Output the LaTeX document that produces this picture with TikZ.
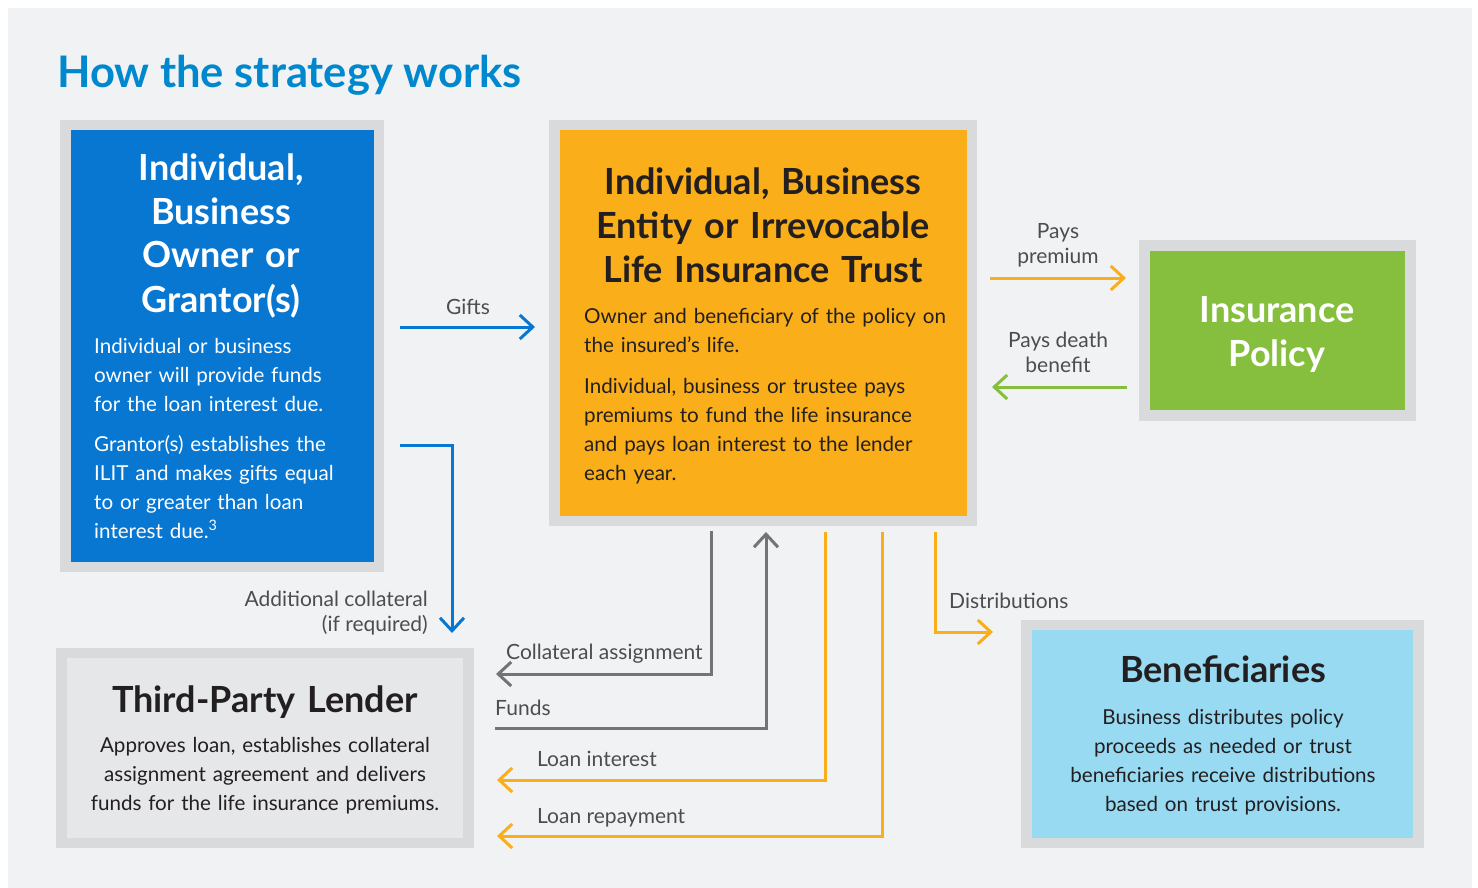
\documentclass[tikz,border=0pt]{standalone}
\usepackage{fontspec}
\setmainfont{Lato}
\usetikzlibrary{arrows.meta}

\definecolor{panel}{HTML}{F1F2F4}
\definecolor{framegray}{HTML}{D9DADC}
\definecolor{ownerblue}{HTML}{0777D1}
\definecolor{trustorange}{HTML}{F9AE1A}
\definecolor{policygreen}{HTML}{86BF3E}
\definecolor{benefblue}{HTML}{97DAF2}
\definecolor{lendergray}{HTML}{E6E7E9}
\definecolor{titleblue}{HTML}{0088CE}
\definecolor{inkdark}{HTML}{231F20}
\definecolor{labelgray}{HTML}{4D4D4F}
\definecolor{linegray}{HTML}{737477}

\tikzset{
  box/.style={draw=framegray, line width=10.5pt, inner sep=0pt},
  boxtitle/.style={font=\fontsize{36}{44}\selectfont\bfseries, text width=400pt, align=center, anchor=base, inner sep=0pt},
  boxtext/.style={font=\fontsize{20.6}{29}\selectfont, text width=400pt, inner sep=0pt},
  flowlabel/.style={text=labelgray, font=\fontsize{21}{25}\selectfont, inner sep=0pt},
  flow/.style={line width=3pt, -{Straight Barb[length=13pt,width=24pt]}},
}

\begin{document}
\begin{tikzpicture}[x=1pt, y=-1pt]
  \fill[white] (0,0) rectangle (1478,888);
  \fill[panel] (8,8) rectangle (1472,888);
  \node[anchor=base west, inner sep=0pt, text=titleblue, font=\fontsize{43.5}{50}\selectfont\bfseries] (heading) at (57,88) {How the strategy works};

  % boxes
  \node[box, fill=ownerblue, minimum width=313.5pt, minimum height=441.5pt] (owner) at (222,346) {};
  \node[box, fill=trustorange, minimum width=417.5pt, minimum height=396pt] (trust) at (763.25,323) {};
  \node[box, fill=policygreen, minimum width=266pt, minimum height=170pt] (policy) at (1277.5,330.5) {};
  \node[box, fill=lendergray, minimum width=407pt, minimum height=190pt] (lender) at (265,748) {};
  \node[box, fill=benefblue, minimum width=392pt, minimum height=218pt] (benef) at (1222.5,734) {};

  % owner
  \node[boxtitle, text=white] (ownerT) at (221,180) {Individual,\\Business\\Owner or\\Grantor(s)};
  \node[boxtext, text=white, anchor=base west, align=left] (ownerA) at (94,353) {Individual or business\\owner will provide funds\\for the loan interest due.};
  \node[boxtext, text=white, anchor=base west, align=left] (ownerB) at (94,451) {Grantor(s) establishes the\\ILIT and makes gifts equal\\to or greater than loan\\interest due.\textsuperscript{3}};

  % trust
  \node[boxtitle, text=inkdark] (trustT) at (763,194) {Individual, Business\\Entity or Irrevocable\\Life Insurance Trust};
  \node[boxtext, text=inkdark, anchor=base west, align=left] (trustA) at (584,323) {Owner and beneficiary of the policy on\\the insured’s life.};
  \node[boxtext, text=inkdark, anchor=base west, align=left] (trustB) at (584,393) {Individual, business or trustee pays\\premiums to fund the life insurance\\and pays loan interest to the lender\\each year.};

  % policy
  \node[boxtitle, text=white] (policyT) at (1277,322) {Insurance\\Policy};

  % lender
  \node[boxtitle, text=inkdark] (lenderT) at (265,712) {Third-Party Lender};
  \node[boxtext, text=inkdark, anchor=base, align=center] (lenderA) at (265,752) {Approves loan, establishes collateral\\assignment agreement and delivers\\funds for the life insurance premiums.};

  % beneficiaries
  \node[boxtitle, text=inkdark] (benefT) at (1223,682) {Beneficiaries};
  \node[boxtext, text=inkdark, anchor=base, align=center] (benefA) at (1223,724) {Business distributes policy\\proceeds as needed or trust\\beneficiaries receive distributions\\based on trust provisions.};

  % connector ends
  \coordinate (giftsA) at (400,327);
  \coordinate (giftsB) at (535,327);
  \coordinate (collA) at (400,445);
  \coordinate (collB) at (452,633);
  \coordinate (premA) at (990,278);
  \coordinate (premB) at (1126,278);
  \coordinate (deathA) at (1127,387);
  \coordinate (deathB) at (992,387);
  \coordinate (assignA) at (711,531);
  \coordinate (assignB) at (496,674);
  \coordinate (fundsA) at (495,728);
  \coordinate (fundsB) at (766,532);
  \coordinate (interestA) at (825,532);
  \coordinate (interestB) at (497,780);
  \coordinate (repayA) at (882,532);
  \coordinate (repayB) at (497,836);
  \coordinate (distA) at (935,532);
  \coordinate (distB) at (993,632);

  % connectors
  \draw[flow, ownerblue] (giftsA) -- (giftsB);
  \draw[flow, ownerblue] (collA) -| (collB);
  \draw[flow, trustorange] (premA) -- (premB);
  \draw[flow, policygreen] (deathA) -- (deathB);
  \draw[flow, linegray] (assignA) |- (assignB);
  \draw[flow, linegray] (fundsA) -| (fundsB);
  \draw[flow, trustorange] (interestA) |- (interestB);
  \draw[flow, trustorange] (repayA) |- (repayB);
  \draw[flow, trustorange] (distA) |- (distB);

  % labels (multi-line ones sit on their last line)
  \node[flowlabel, anchor=base] (giftsL) at (468,314) {Gifts};
  \node[flowlabel, anchor=base east, align=right] (collL) at (428,631) {Additional collateral\\(if required)};
  \node[flowlabel, anchor=base, align=center] (premL) at (1058,263) {Pays\\premium};
  \node[flowlabel, anchor=base, align=center] (deathL) at (1058,372) {Pays death\\benefit};
  \node[flowlabel, anchor=base west] (assignL) at (506,659) {Collateral assignment};
  \node[flowlabel, anchor=base west] (fundsL) at (495,715) {Funds};
  \node[flowlabel, anchor=base west] (interestL) at (537,766) {Loan interest};
  \node[flowlabel, anchor=base west] (repayL) at (537,823) {Loan repayment};
  \node[flowlabel, anchor=base west] (distL) at (949,608) {Distributions};
\end{tikzpicture}
\end{document}
